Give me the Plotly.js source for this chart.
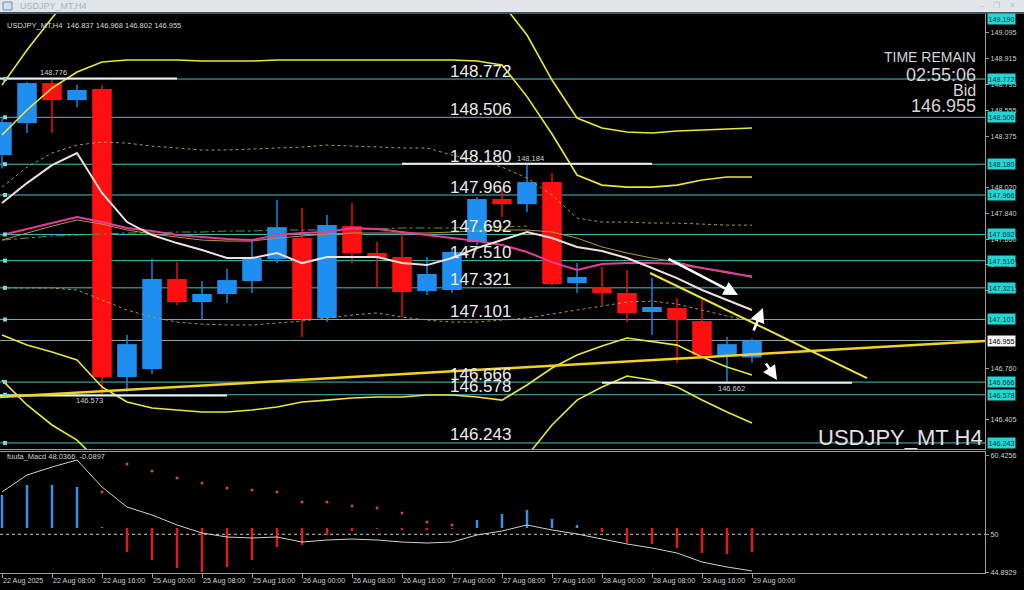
<!DOCTYPE html>
<html><head><meta charset="utf-8">
<script src="https://cdn.plot.ly/plotly-3.0.1.min.js"></script>
<style>html,body{margin:0;padding:0;background:#000;overflow:hidden}#chart{width:1024px;height:590px}</style>
</head><body><div id="chart"></div>
<script>
// ---------- DATA ----------
const candleTimes = ['22 Aug 00:00','22 Aug 04:00','22 Aug 08:00','22 Aug 12:00','22 Aug 16:00','22 Aug 20:00',
 '25 Aug 00:00','25 Aug 04:00','25 Aug 08:00','25 Aug 12:00','25 Aug 16:00','25 Aug 20:00',
 '26 Aug 00:00','26 Aug 04:00','26 Aug 08:00','26 Aug 12:00','26 Aug 16:00','26 Aug 20:00',
 '27 Aug 00:00','27 Aug 04:00','27 Aug 08:00','27 Aug 12:00','27 Aug 16:00','27 Aug 20:00',
 '28 Aug 00:00','28 Aug 04:00','28 Aug 08:00','28 Aug 12:00','28 Aug 16:00','28 Aug 20:00','29 Aug 00:00'];
const tickIndex = [0,2,4,6,8,10,12,14,16,18,20,22,24,26,28,30];
const tickLabels = ['22 Aug 2025','22 Aug 08:00','22 Aug 16:00','25 Aug 00:00','25 Aug 08:00','25 Aug 16:00','26 Aug 00:00','26 Aug 08:00','26 Aug 16:00','27 Aug 00:00','27 Aug 08:00','27 Aug 16:00','28 Aug 00:00','28 Aug 08:00','28 Aug 16:00','29 Aug 00:00'];

const open  = [148.244,148.466,148.744,148.626,148.703,146.701,146.757,147.382,147.222,147.278,147.368,147.521,147.667,147.111,147.750,147.563,147.535,147.299,147.306,147.639,147.938,147.903,148.056,147.354,147.327,147.285,147.153,147.181,147.090,146.854,146.837];
const high  = [148.500,148.751,148.776,148.730,148.730,146.993,147.521,147.500,147.368,147.452,147.653,147.931,147.875,147.827,147.910,147.639,147.702,147.535,147.598,147.952,148.015,148.184,148.119,147.493,147.465,147.445,147.389,147.250,147.236,146.979,146.968];
const low   = [148.150,148.397,148.397,148.577,146.573,146.600,146.722,147.201,147.097,147.215,147.285,147.493,146.979,147.083,147.493,147.320,147.118,147.271,147.285,147.618,147.813,147.848,147.333,147.285,147.201,147.083,146.993,146.798,146.833,146.662,146.802];
const close = [148.473,148.744,148.626,148.696,146.701,146.930,147.382,147.222,147.278,147.375,147.528,147.743,147.104,147.757,147.563,147.528,147.292,147.417,147.570,147.938,147.903,148.056,147.347,147.396,147.285,147.146,147.188,147.097,146.854,146.930,146.955];

const bbUpper3 = [148.730,148.974,149.196,149.400,149.500,149.500,149.500,149.500,149.500,149.500,149.500,149.500,149.500,149.500,149.500,149.500,149.500,149.500,149.500,149.500,149.300,149.078,148.765,148.501,148.432,148.404,148.397,148.411,148.418,148.425,148.432];
const bbUpper2 = [148.383,148.557,148.709,148.821,148.890,148.904,148.904,148.904,148.897,148.897,148.897,148.904,148.904,148.904,148.904,148.904,148.904,148.904,148.904,148.897,148.870,148.650,148.390,148.105,148.035,148.021,148.021,148.035,148.070,148.091,148.091];
const bbUpper1 = [148.021,148.160,148.258,148.313,148.334,148.327,148.306,148.293,148.279,148.279,148.286,148.293,148.299,148.313,148.306,148.299,148.293,148.293,148.244,148.209,148.160,148.084,147.966,147.806,147.778,147.778,147.771,147.771,147.764,147.757,147.757];
const bbLower1 = [147.320,147.320,147.320,147.306,147.236,147.167,147.118,147.083,147.069,147.063,147.063,147.076,147.090,147.111,147.132,147.146,147.118,147.097,147.083,147.083,147.097,147.111,147.139,147.167,147.195,147.222,147.229,147.208,147.167,147.125,147.090];
const bbLower2 = [146.993,146.923,146.875,146.819,146.632,146.528,146.486,146.472,146.458,146.458,146.472,146.493,146.528,146.541,146.555,146.562,146.562,146.576,146.576,146.562,146.541,146.646,146.764,146.854,146.917,146.972,146.945,146.923,146.840,146.771,146.715];
const bbLower3 = [146.680,146.507,146.368,146.263,146.090,145.900,145.900,145.900,145.900,145.900,145.900,145.900,145.900,145.900,145.900,145.900,145.900,145.900,145.900,145.900,145.900,146.152,146.368,146.541,146.632,146.708,146.680,146.632,146.541,146.458,146.381];
const bbMiddle = [147.653,147.702,147.750,147.792,147.764,147.723,147.695,147.674,147.653,147.646,147.646,147.667,147.681,147.695,147.702,147.702,147.702,147.702,147.709,147.716,147.723,147.723,147.709,147.667,147.605,147.563,147.528,147.500,147.459,147.424,147.403];
const greenLine = [147.653,147.667,147.681,147.688,147.695,147.702,147.702,147.709,147.709,147.716,147.716,147.723,147.723,147.723,147.730,147.730,147.737,147.737,147.737,147.744,147.744,147.750];
const fastMA = [147.910,148.049,148.174,148.258,147.980,147.778,147.688,147.632,147.584,147.528,147.528,147.563,147.493,147.535,147.535,147.535,147.493,147.479,147.528,147.598,147.653,147.709,147.667,147.605,147.577,147.528,147.459,147.389,147.306,147.236,147.167];
const slowMA = [147.688,147.730,147.771,147.813,147.778,147.737,147.716,147.688,147.674,147.660,147.653,147.688,147.702,147.709,147.737,147.730,147.709,147.688,147.667,147.646,147.619,147.570,147.500,147.445,147.486,147.493,147.493,147.486,147.459,147.431,147.396];

const levels = [148.772,148.506,148.180,147.966,147.692,147.510,147.321,147.101,146.666,146.578,146.243];
const axisBoxes = [149.190,148.772,148.506,148.180,147.966,147.692,147.510,147.321,147.101,146.666,146.578,146.243];
const bidPrice = 146.955;
const priceTicks = [149.095,148.915,148.735,148.555,148.375,148.020,147.840,147.660,147.480,147.300,146.760,146.405];

const hlPrice = [148.776,148.184,146.573,146.662];
const hlIndex = [2,21,4,29];
const hlIsHigh = [true,true,false,false];
const hlLabelIndex = [2.04,21.12,3.48,29.16];

const trendUpIdx = [-0.08,39.32], trendUpPrice = [146.562,146.951];
const trendDnIdx = [25.92,34.6], trendDnPrice = [147.424,146.694];
const arrowTail = [[26.6,147.528],[30.04,147.014],[30.52,146.805]];
const arrowHead = [[29.44,147.271],[30.44,147.181],[31.0,146.680]];

const macdBase = 50.84;
const macdHist = [55.23,56.56,56.56,56.29,50.95,47.64,46.58,45.52,44.98,45.65,46.58,48.31,48.58,49.91,50.44,50.71,50.57,50.57,50.71,51.90,52.70,53.23,52.04,51.24,50.31,48.84,48.71,48.18,47.51,47.38,47.64];
const macdSignal = [null,null,null,null,55.63,59.35,58.42,57.49,56.83,56.16,55.89,55.63,54.30,54.30,53.77,53.50,52.83,51.64,51.24,null,null,null,null,null,null,null,null,null,null,null,null];
const macdLine = [55.63,57.89,58.95,59.89,56.29,53.63,52.57,51.24,50.17,49.64,49.51,49.64,48.97,49.24,49.37,49.24,48.97,48.84,48.97,49.91,50.44,51.24,50.57,50.04,49.37,48.71,48.18,47.51,46.31,45.65,45.12];
const macdTicks = [60.4256,50,44.8929];

// ---------- BUILD ----------
const W=1024,H=590;
const px=x=>x/W, py=y=>1-y/H;
const idx = candleTimes.map((t,i)=>i);
const BLUE='#1e8ff0', RED='#ff1010';
const FONT='Liberation Sans, Arial, sans-serif';
const up = close.map((c,i)=>c>=open[i]);
const cColor = up.map(u=>u?BLUE:RED);

const traces = [];
traces.push({type:'bar',x:idx,base:low,y:high.map((h,i)=>h-low[i]),width:0.055,marker:{color:cColor,line:{width:0}},xaxis:'x',yaxis:'y',hoverinfo:'skip'});
traces.push({type:'bar',x:idx,base:open.map((o,i)=>Math.min(o,close[i])),y:open.map((o,i)=>Math.max(Math.abs(close[i]-o),0.004)),width:0.78,marker:{color:cColor,line:{width:0}},xaxis:'x',yaxis:'y',hoverinfo:'skip'});

const line=(y,color,width,dash,xs)=>({type:'scatter',mode:'lines',x:xs||idx,y:y,line:{color:color,width:width,dash:dash||'solid'},xaxis:'x',yaxis:'y',hoverinfo:'skip'});
traces.push(line(bbUpper1,'#a89a3a',1,'dot'));
traces.push(line(bbLower1,'#a89a3a',1,'dot'));
traces.push(line(greenLine,'#4e9a3a',1,'dashdot',idx.slice(0,greenLine.length)));
traces.push(line(bbMiddle,'#b8963a',1));
traces.push(line(bbUpper3,'#e8e83a',1.6));
traces.push(line(bbUpper2,'#e8e83a',1.6));
traces.push(line(bbLower2,'#e8e83a',1.6));
traces.push(line(bbLower3,'#e8e83a',1.6));
traces.push(line(slowMA,'#e43c9c',2));
traces.push(line(fastMA,'#f2dede',2));
hlPrice.forEach((p,i)=>traces.push(line([p,p],'#f0f0f0',2,'solid',[hlIndex[i]-5,hlIndex[i]+5])));
traces.push(line(trendUpPrice,'#f2d21a',2.5,'solid',trendUpIdx));
traces.push(line(trendDnPrice,'#eee43a',2,'solid',trendDnIdx));
traces.push({type:'scatter',mode:'markers',x:levels.map(()=>0.12),y:levels,marker:{symbol:'square',size:4,color:'#7ad8d8'},xaxis:'x',yaxis:'y',cliponaxis:false,hoverinfo:'skip'});

traces.push({type:'bar',x:idx,base:macdHist.map(()=>macdBase),y:macdHist.map(v=>v-macdBase),width:0.1,marker:{color:macdHist.map(v=>v>=macdBase?'#3f8fe0':'#e01c1c'),line:{width:0}},xaxis:'x2',yaxis:'y2',hoverinfo:'skip'});
traces.push({type:'scatter',mode:'lines',x:idx,y:macdLine,line:{color:'#cfcfcf',width:1},xaxis:'x2',yaxis:'y2',hoverinfo:'skip'});
traces.push({type:'scatter',mode:'markers',x:idx,y:macdSignal,marker:{size:3,color:'#d8405a'},xaxis:'x2',yaxis:'y2',hoverinfo:'skip'});

const shapes = [];
levels.forEach(v=>shapes.push({type:'line',xref:'x domain',yref:'y',x0:0,x1:1,y0:v,y1:v,line:{color:'#45c2c2',width:1},layer:'below'}));
shapes.push({type:'line',xref:'x domain',yref:'y',x0:0,x1:1,y0:bidPrice,y1:bidPrice,line:{color:'#7fa9a9',width:1},layer:'below'});
shapes.push({type:'line',xref:'x2 domain',yref:'y2',x0:0,x1:1,y0:50,y1:50,line:{color:'#c8c8c8',width:1,dash:'3px,3px'},layer:'below'});
shapes.push({type:'rect',xref:'paper',yref:'paper',x0:0,x1:1,y0:py(12),y1:1,fillcolor:'#e2e6eb',line:{width:0}});
shapes.push({type:'line',xref:'paper',yref:'paper',x0:0,x1:1,y0:py(13),y1:py(13),line:{color:'#3a5a5e',width:2}});
shapes.push({type:'rect',xref:'paper',yref:'paper',x0:px(3),x1:px(12),y0:py(10),y1:py(2),fillcolor:'#cfe0f0',line:{color:'#6a90b8',width:1}});

const ann = [];
const A=(o)=>ann.push(Object.assign({showarrow:false,font:{family:FONT,size:7.5,color:'#d8d8d8'}},o));
A({xref:'paper',yref:'paper',x:px(18),y:py(6),xanchor:'left',yanchor:'middle',text:'USDJPY_MT,H4',font:{family:FONT,size:9,color:'#a9b2bb'}});
A({xref:'paper',yref:'paper',x:px(1018),y:py(6),xanchor:'right',yanchor:'middle',text:'–    ❐    ✕',font:{family:FONT,size:8,color:'#b8c0c8'}});
A({xref:'paper',yref:'paper',x:px(5),y:py(25),xanchor:'left',yanchor:'middle',text:'USDJPY_MT,H4  '+[open[30],high[30],low[30],close[30]].map(v=>v.toFixed(3)).join(' ')});
A({xref:'paper',yref:'paper',x:px(5),y:py(456),xanchor:'left',yanchor:'middle',text:'fuuta_Macd 48.0366  -0.0897',font:{family:FONT,size:7.5,color:'#d0d0d0'}});
A({xref:'paper',yref:'paper',x:px(978),y:py(57),xanchor:'right',yanchor:'middle',text:'TIME REMAIN',font:{family:FONT,size:14,color:'#d4d4d4'}});
A({xref:'paper',yref:'paper',x:px(978),y:py(75),xanchor:'right',yanchor:'middle',text:'02:55:06',font:{family:FONT,size:18,color:'#d4d4d4'}});
A({xref:'paper',yref:'paper',x:px(978),y:py(90),xanchor:'right',yanchor:'middle',text:'Bid',font:{family:FONT,size:16,color:'#d4d4d4'}});
A({xref:'paper',yref:'paper',x:px(978),y:py(106),xanchor:'right',yanchor:'middle',text:bidPrice.toFixed(3),font:{family:FONT,size:18,color:'#d4d4d4'}});
A({xref:'paper',yref:'paper',x:px(985),y:py(437),xanchor:'right',yanchor:'middle',text:'USDJPY_MT H4',font:{family:FONT,size:22,color:'#e2e2e2'}});
levels.forEach(v=>A({xref:'x',yref:'y',x:17.84,y:v,xanchor:'left',yanchor:'middle',yshift:8,text:v.toFixed(3),font:{family:FONT,size:17,color:'#ececec'}}));
hlPrice.forEach((p,i)=>A({xref:'x',yref:'y',x:hlLabelIndex[i],y:p,xanchor:'center',yanchor:hlIsHigh[i]?'bottom':'top',yshift:hlIsHigh[i]?-1:1,text:p.toFixed(3),font:{family:FONT,size:7.5,color:'#cfcfcf'}}));
axisBoxes.forEach(v=>A({xref:'paper',yref:'y',x:px(987),y:v,xanchor:'left',yanchor:'middle',text:v.toFixed(3),bgcolor:'#22d6d6',borderpad:0.5,font:{family:FONT,size:7.2,color:'#0a3a3a'}}));
A({xref:'paper',yref:'y',x:px(987),y:bidPrice,xanchor:'left',yanchor:'middle',text:bidPrice.toFixed(3),bgcolor:'#f4f4f4',borderpad:0.5,font:{family:FONT,size:7.2,color:'#000'}});
arrowHead.forEach((h,i)=>ann.push({xref:'x',yref:'y',axref:'x',ayref:'y',x:h[0],y:h[1],ax:arrowTail[i][0],ay:arrowTail[i][1],text:'',showarrow:true,arrowhead:2,arrowsize:1.1,arrowwidth:2.6,arrowcolor:'#ffffff'}));

const axisCommon = {showgrid:false,zeroline:false,showline:true,mirror:true,linecolor:'#9c9c9c',linewidth:1,fixedrange:true};
const layout = {
  width:W,height:H,margin:{l:0,r:0,t:0,b:0},
  paper_bgcolor:'#000',plot_bgcolor:'#000',showlegend:false,barmode:'overlay',
  font:{family:FONT,color:'#cfcfcf',size:7.2},
  xaxis:Object.assign({},axisCommon,{domain:[0,985/W],range:[-0.08,39.32],anchor:'y',showticklabels:false,ticks:''}),
  xaxis2:Object.assign({},axisCommon,{domain:[0,985/W],range:[-0.08,39.32],anchor:'y2',tickmode:'array',tickvals:tickIndex,ticktext:tickLabels,tickangle:0,ticks:'outside',ticklen:4,tickcolor:'#9c9c9c',ticklabelposition:'outside right',tickfont:{family:FONT,size:7.2,color:'#cfcfcf'}}),
  yaxis:Object.assign({},axisCommon,{domain:[py(449),py(14)],range:[146.201,149.224],side:'right',anchor:'x',tickmode:'array',tickvals:priceTicks,ticktext:priceTicks.map(v=>v.toFixed(3)),ticks:'outside',ticklen:3,tickcolor:'#9c9c9c',tickfont:{family:FONT,size:7.2,color:'#cfcfcf'}}),
  yaxis2:Object.assign({},axisCommon,{domain:[py(573),py(452)],range:[44.85,60.95],side:'right',anchor:'x2',tickmode:'array',tickvals:macdTicks,ticktext:macdTicks.map(String),ticks:'outside',ticklen:3,tickcolor:'#9c9c9c',tickfont:{family:FONT,size:7.2,color:'#cfcfcf'}}),
  shapes:shapes,annotations:ann
};
Plotly.newPlot('chart',traces,layout,{staticPlot:true,displayModeBar:false});
</script></body></html>
